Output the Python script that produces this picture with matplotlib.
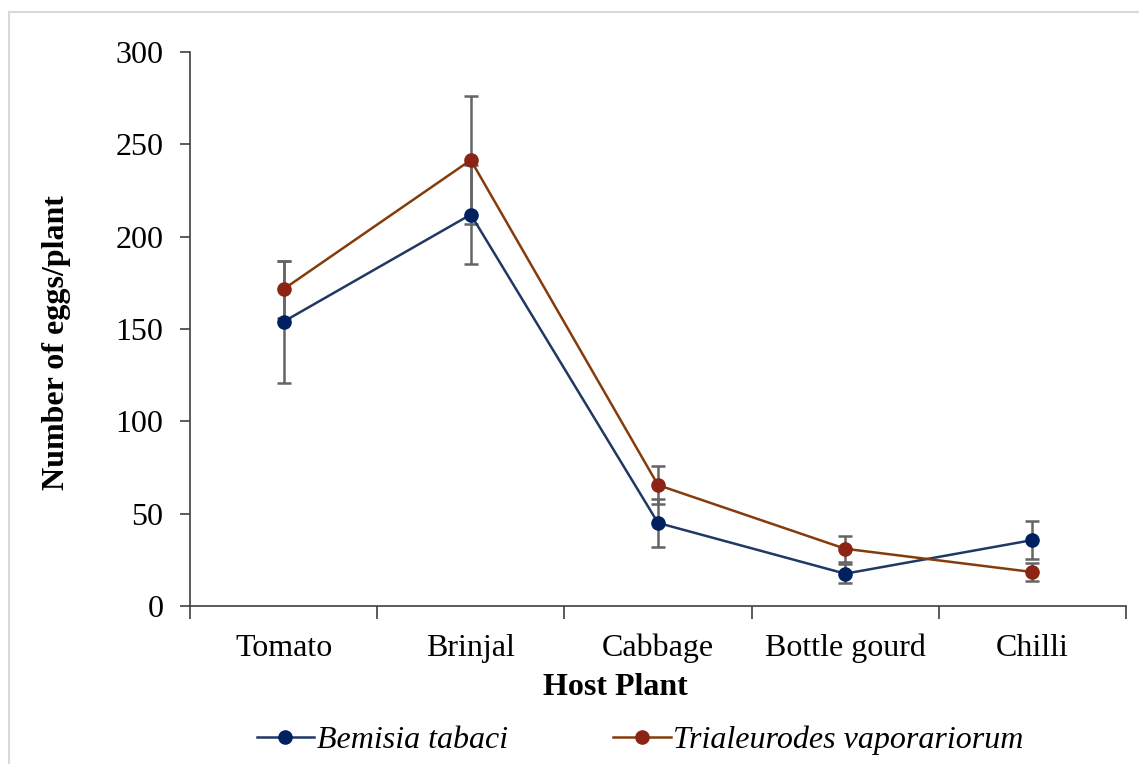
import matplotlib.pyplot as plt
from matplotlib.patches import Rectangle
from matplotlib.ticker import FixedLocator

# Mean eggs laid per plant on each host, with standard errors
hosts = ["Tomato", "Brinjal", "Cabbage", "Bottle gourd", "Chilli"]
bemisia = [154, 212, 45, 17.5, 35.7]
bemisia_err = [33, 27, 13, 5, 10.5]
trialeurodes = [171.6, 241.5, 65.5, 31, 18.4]
trialeurodes_err = [15.5, 34.5, 10.5, 7, 4.7]

plt.rcParams["font.family"] = ["Liberation Serif", "DejaVu Serif"]

fig = plt.figure(figsize=(11.39, 7.64), dpi=100)
ax = fig.add_axes([0.1668, 0.2068, 0.8218, 0.7251])

# light frame around the whole chart area
fig.patches.append(Rectangle((0.008, -0.01), 1.2, 0.994, transform=fig.transFigure,
                             fill=False, edgecolor="#d9d9d9", linewidth=1.5))

x = list(range(len(hosts)))
err_style = dict(ecolor="#646464", elinewidth=1.8, capsize=5, capthick=1.8)

ax.errorbar(x, bemisia, yerr=bemisia_err, fmt="none", zorder=2, **err_style)
ax.errorbar(x, trialeurodes, yerr=trialeurodes_err, fmt="none", zorder=2, **err_style)
ax.plot(x, bemisia, color="#203864", linewidth=1.8, marker="o", markersize=9.5,
        markerfacecolor="#002060", markeredgecolor="#002060", zorder=3,
        label="Bemisia tabaci")
ax.plot(x, trialeurodes, color="#843c0c", linewidth=1.8, marker="o", markersize=9.5,
        markerfacecolor="#8b2415", markeredgecolor="#8b2415", zorder=3,
        label="Trialeurodes vaporariorum")

ax.set_xlim(-0.5, len(hosts) - 0.5)
ax.set_ylim(0, 300)
ax.set_yticks([0, 50, 100, 150, 200, 250, 300])
ax.set_xticks(x)
ax.set_xticklabels(hosts)
ax.xaxis.set_minor_locator(FixedLocator([i - 0.5 for i in range(len(hosts) + 1)]))
ax.tick_params(axis="x", which="major", length=0, pad=20, labelsize=23)
ax.tick_params(axis="x", which="minor", length=9, width=1.2, color="#404040")
ax.tick_params(axis="y", length=7, width=1.2, color="#404040", pad=12, labelsize=23)

for side in ("top", "right"):
    ax.spines[side].set_visible(False)
for side in ("left", "bottom"):
    ax.spines[side].set_color("#404040")
    ax.spines[side].set_linewidth(1.2)

ax.set_xlabel("Host Plant", fontsize=23, fontweight="bold", va="center")
ax.xaxis.set_label_coords(0.454, -0.148)
ax.set_ylabel("Number of eggs/plant", fontsize=23, fontweight="bold", va="center")
ax.yaxis.set_label_coords(-0.143, 0.476)

fig.legend(loc="center", bbox_to_anchor=(0.562, 0.031), ncol=2, frameon=False,
           prop={"style": "italic", "size": 23}, handlelength=1.8,
           handletextpad=0.08, columnspacing=3.3)

fig.savefig("out.png", dpi=100)
